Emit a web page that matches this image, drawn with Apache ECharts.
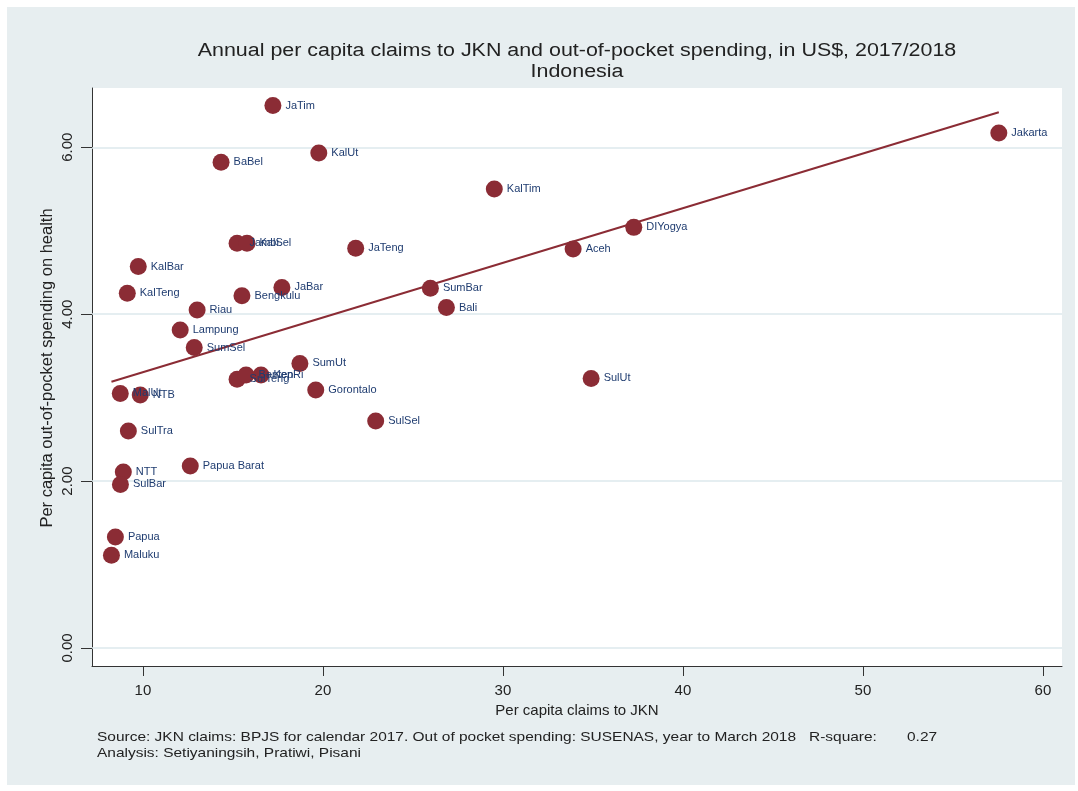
<!DOCTYPE html>
<html>
<head>
<meta charset="utf-8">
<script src="https://cdn.jsdelivr.net/npm/echarts@6/dist/echarts.min.js"></script>
<style>
html,body{margin:0;padding:0;background:#ffffff;}
#panel{position:absolute;left:7px;top:7px;width:1068px;height:778px;background:#e7eef0;}
#chart{position:absolute;left:0;top:0;width:1078px;height:791px;}
</style>
</head>
<body>
<div id="panel"></div>
<div id="chart"></div>
<script>
const provinces = ["JaTim","KalUt","BaBel","KalTim","Jakarta","DIYogya","Aceh","JaTeng","Jambi","KalSel",
  "KalBar","KalTeng","JaBar","Bengkulu","Riau","SumBar","Bali","Lampung","SumSel","SumUt",
  "Gorontalo","SulUt","SulSel","SulTeng","Banten","KepRi","MalUt","NTB","SulTra","Papua Barat",
  "NTT","SulBar","Papua","Maluku"];
const claimsJKN = [17.22,19.77,14.34,29.52,57.55,37.27,33.90,21.82,15.23,15.78,
  9.74,9.13,17.72,15.50,13.01,25.97,26.86,12.07,12.85,18.72,
  19.60,34.90,22.93,15.23,15.73,16.56,8.74,9.85,9.19,12.63,
  8.91,8.75,8.47,8.25];
const oopSpending = [6.50,5.93,5.82,5.50,6.17,5.04,4.78,4.79,4.85,4.85,
  4.57,4.25,4.32,4.22,4.05,4.31,4.08,3.81,3.60,3.41,
  3.09,3.23,2.72,3.22,3.27,3.27,3.05,3.03,2.60,2.18,
  2.11,1.96,1.33,1.11];
const fitX = [8.25, 57.55];
const fitY = [3.19, 6.42];
const xTicks = [10,20,30,40,50,60];
const yTicks = [0,2,4,6];
const rSquare = "0.27";

const red = '#8b2c35';
const font = 'Liberation Sans, Arial, Helvetica, sans-serif';
const sx = 1.19;

const points = provinces.map((n,i)=>({name:n, value:[claimsJKN[i], oopSpending[i]]}));
const fitLine = fitX.map((x,i)=>[x, fitY[i]]);

const chart = echarts.init(document.getElementById('chart'), null, {renderer:'canvas'});
chart.setOption({
  backgroundColor: 'transparent',
  animation: false,
  textStyle: {fontFamily: font},
  grid: {left:92, right:16, top:88, bottom:125, show:true, backgroundColor:'#ffffff', borderWidth:0},
  graphic: [
    {type:'text', x:577, y:51, scaleX:sx, style:{text:'Annual per capita claims to JKN and out-of-pocket spending, in US$, 2017/2018', fill:'#222', font:'18px '+font, textAlign:'center', textVerticalAlign:'middle'}},
    {type:'text', x:577, y:72, scaleX:sx, style:{text:'Indonesia', fill:'#222', font:'18px '+font, textAlign:'center', textVerticalAlign:'middle'}},
    {type:'text', x:97, y:737, scaleX:sx, style:{text:'Source: JKN claims: BPJS for calendar 2017. Out of pocket spending: SUSENAS, year to March 2018   R-square:       ' + rSquare, fill:'#222', font:'13px '+font, textAlign:'left', textVerticalAlign:'middle'}},
    {type:'text', x:97, y:753, scaleX:sx, style:{text:'Analysis: Setiyaningsih, Pratiwi, Pisani', fill:'#222', font:'13px '+font, textAlign:'left', textVerticalAlign:'middle'}}
  ],
  xAxis: {
    type:'value', min:7.17, max:61.06,
    name:'Per capita claims to JKN', nameLocation:'middle', nameGap:37,
    nameTextStyle:{fontSize:15, color:'#222', fontFamily:font},
    axisLine:{show:true, onZero:false, lineStyle:{color:'#333', width:1}},
    axisTick:{show:true, length:10, customValues:xTicks, lineStyle:{color:'#333'}},
    axisLabel:{customValues:xTicks, fontSize:15, color:'#222', margin:17, fontFamily:font},
    splitLine:{show:false}
  },
  yAxis: {
    type:'value', min:-0.216, max:6.71,
    name:'Per capita out-of-pocket spending on health', nameLocation:'middle', nameGap:36,
    nameMoveOverlap:false,
    nameTextStyle:{fontSize:16.5, color:'#222', fontFamily:font, padding:[0,0,0,18]},
    axisLine:{show:true, onZero:false, lineStyle:{color:'#333', width:1}},
    axisTick:{show:true, length:11, customValues:yTicks, lineStyle:{color:'#333'}},
    axisLabel:{customValues:yTicks, rotate:90, fontSize:15, color:'#222', margin:17, fontFamily:font,
      formatter:(v)=>Number(v).toFixed(2)},
    splitLine:{show:false}
  },
  series: [
    {
      type:'scatter', symbol:'circle', symbolSize:17, z:3,
      itemStyle:{color:red, opacity:1},
      data: points,
      label:{show:true, position:'right', distance:4, formatter:(p)=>p.name, fontSize:11, color:'#1f3c70', fontFamily:font},
      markLine:{
        silent:true, symbol:'none', z:1,
        label:{show:false},
        lineStyle:{color:'#dde9ec', width:1.5, type:'solid'},
        data: yTicks.map(v=>({yAxis:v}))
      }
    },
    {
      type:'line', data: fitLine, showSymbol:false, symbol:'none', z:2,
      lineStyle:{color:red, width:2}
    }
  ]
});
</script>
</body>
</html>
